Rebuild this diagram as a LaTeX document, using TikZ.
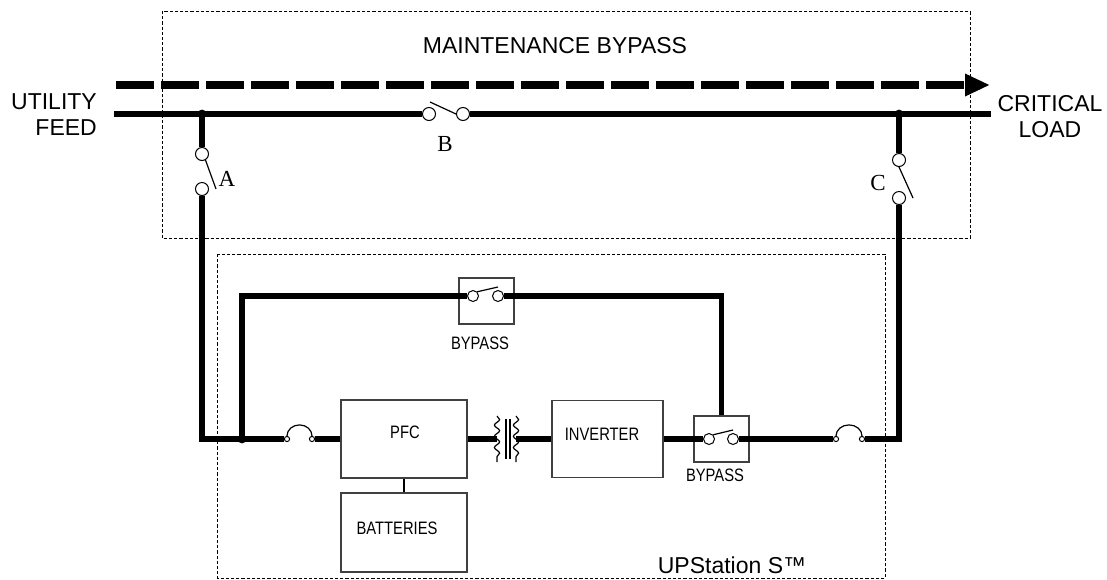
\documentclass[tikz,border=0pt]{standalone}
\usepackage{fontspec}
\setmainfont{Liberation Sans}
\newfontfamily\narrowsf[FakeStretch=0.82]{Liberation Sans}
\newfontfamily\timesf{Liberation Serif}
\usetikzlibrary{arrows.meta,decorations.pathmorphing}

\begin{document}
\begin{tikzpicture}
        [x=0.5pt, y=-0.5pt,
        wire/.style={line width=2.6pt},
        thinwire/.style={line width=0.6pt},
        frame/.style={draw, dash pattern=on 1.6pt off 1pt, line width=0.45pt},
        blk/.style={draw=black!75, line width=0.6pt, inner sep=0pt},
        sw/.style={draw, circle, fill=white, inner sep=0pt, minimum size=6.5pt, line width=0.5pt},
        smallsw/.style={sw, minimum size=5.5pt},
        term/.style={sw, minimum size=2.6pt},
        coil/.style={thinwire, decorate, decoration={snake, segment length=5.6pt, amplitude=1.3pt}},
        big/.style={font=\fontsize{11.5}{13}\selectfont, align=center},
        small/.style={font=\narrowsf\fontsize{9}{10}\selectfont},
        letter/.style={font=\timesf\fontsize{11.5}{13}\selectfont}]
        \useasboundingbox (0,0) rectangle (1107,579);

        % dashed frames
        \draw[frame] (162,11) rectangle (970,238);
        \draw[frame] (217,254) rectangle (885,578);

        % texts
        \node[big] (mtitle) at (555,46) {MAINTENANCE BYPASS};
        \node[big, align=right] (feed) at (54,115) {UTILITY\\FEED};
        \node[big] (load) at (1050,117) {CRITICAL\\LOAD};
        \node[big] (ups) at (732,565) {UPStation S™};

        % bypass flow arrow
        \coordinate (arrS) at (116,85);
        \coordinate (arrE) at (990,85);
        \draw[line width=3.8pt, dash pattern=on 19pt off 3.5pt,
              -{Triangle[length=12.5pt, width=10.5pt]}] (arrS) -- (arrE);

        % corners and junctions
        \coordinate (feedL) at (114,114);
        \coordinate (loadR) at (991,114);
        \coordinate (jA) at (202,114);
        \coordinate (jC) at (899,114);
        \coordinate (cnA) at (202,439);
        \coordinate (jB) at (242,439);
        \coordinate (cnB) at (242,296);
        \coordinate (cnC) at (899,439);
        \coordinate (tL) at (497,439);
        \coordinate (tR) at (516,439);

        % switches A, B, C
        \node[sw] (a1) at (202,154) {};
        \node[sw] (a2) at (202,189) {};
        \node[sw] (b1) at (429,114) {};
        \node[sw] (b2) at (463,114) {};
        \node[sw] (c1) at (899,160) {};
        \node[sw] (c2) at (899,198) {};
        \node[letter] (labA) at (227,179) {A};
        \node[letter] (labB) at (445,144) {B};
        \node[letter] (labC) at (878,183) {C};

        % blocks
        \node[blk, minimum width=63pt, minimum height=39pt] (pfc) at (404,439) {};
        \node[blk, minimum width=63pt, minimum height=39.5pt] (bat) at (404,532.5) {};
        \node[blk, minimum width=55.5pt, minimum height=38.5pt] (inv) at (607.5,439) {};
        \node[blk, minimum width=27.5pt, minimum height=23pt] (byp1) at (486.5,301) {};
        \node[blk, minimum width=27.5pt, minimum height=23pt] (byp2) at (721.5,439) {};
        \node[small] at (405,432) {PFC};
        \node[small] at (397,528) {BATTERIES};
        \node[small] at (602,434) {INVERTER};
        \node[small] at (480,343) {BYPASS};
        \node[small] at (715,475) {BYPASS};

        % static bypass switches and fuses
        \node[smallsw] (p1) at (473,296) {};
        \node[smallsw] (p2) at (498,296) {};
        \node[smallsw] (s1) at (709,439) {};
        \node[smallsw] (s2) at (733,439) {};
        \node[term] (f1) at (287,439) {};
        \node[term] (f2) at (312,439) {};
        \node[term] (f3) at (836,439) {};
        \node[term] (f4) at (862,439) {};

        % transformer
        \draw[coil] (497,416) -- (497,462);
        \draw[coil] (516,416) -- (516,462);
        \draw[thinwire] (506,419) -- (506,459);
        \draw[thinwire] (510,419) -- (510,459);

        % power wiring
        \draw[wire] (feedL) -- (b1);
        \draw[wire] (b2) -- (loadR);
        \draw[wire] (jA) -- (a1);
        \draw[wire] (a2) -- (cnA) -- (f1);
        \draw[wire] (jC) -- (c1);
        \draw[wire] (c2) -- (cnC) -- (f4);
        \draw[wire] (jB) -- (cnB) -- (p1);
        \draw[wire] (p2) -| (byp2.north);
        \foreach \from/\to in {f2/pfc, pfc/tL, tR/inv, inv/s1, s2/f3}
        \draw[wire] (\from) -- (\to);
        \draw[thinwire] (pfc) -- (bat);
        \foreach \j in {jA,jB,jC}
        \fill (\j) circle (2.2pt);

        % switch blades and fuse links
        \draw[thinwire] (a1.-60) -- ([xshift=7pt]a2.center);
        \draw[thinwire] ([shift={(1,-12)}]b1.center) -- (b2.west);
        \draw[thinwire] (c1.south) -- ([xshift=7pt]c2.center);
        \draw[thinwire] (p1.north east) -- ([yshift=4.5pt]p2.center);
        \draw[thinwire] (s1.north east) -- ([yshift=4.5pt]s2.center);
        \draw[thinwire] (f1.north) arc[start angle=180, end angle=360, x radius=12.5, y radius=11];
        \draw[thinwire] (f3.north) arc[start angle=180, end angle=360, x radius=13, y radius=11];
\end{tikzpicture}
\end{document}
